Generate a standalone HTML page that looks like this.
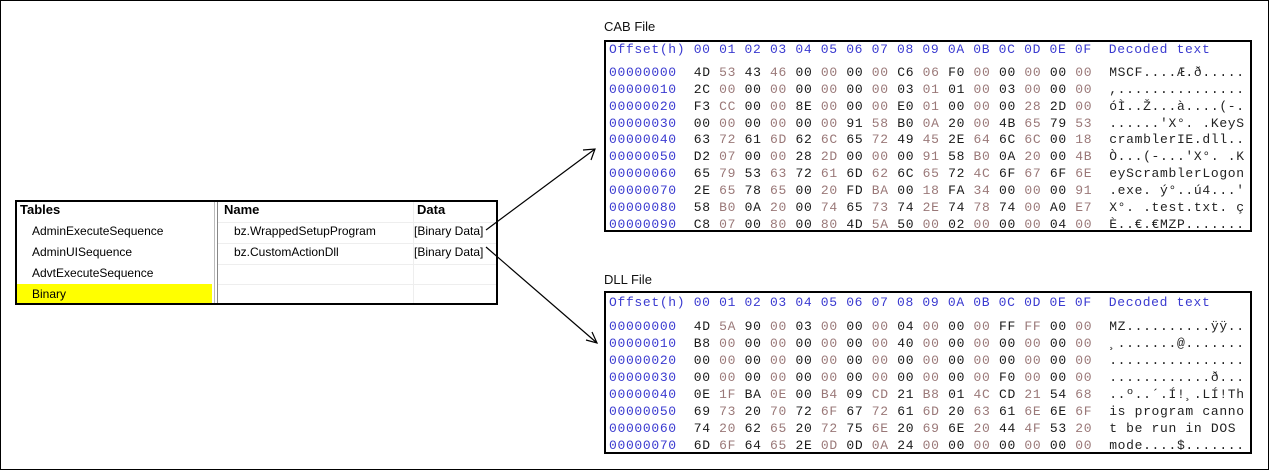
<!DOCTYPE html>
<html><head><meta charset="utf-8"><style>
html,body{margin:0;padding:0}
body{width:1269px;height:470px;position:relative;background:#fff;overflow:hidden;font-family:"Liberation Sans",sans-serif}
#frame{position:absolute;left:0;top:0;width:1267px;height:468px;border:1px solid #000}
.lbl{position:absolute;font-size:13px;color:#111}
.box{position:absolute;border:2px solid #000;overflow:hidden;background:#fff}
.r{position:absolute;left:3px;white-space:pre;font-family:"Liberation Mono",monospace;font-size:13px;letter-spacing:.67px;line-height:17px;color:#222}
.r .o{color:#3a3ad0}
.h{color:#3a3ad0}
b{font-weight:normal;color:#1a1a1a}
i{font-style:normal;color:#9a7878}
.tb{position:absolute;left:15px;top:200px;width:479px;height:101px;border:2px solid #000;overflow:hidden;font-size:12px}
.t{position:absolute;white-space:nowrap}
</style></head><body>
<div id="frame"></div>

<div class="lbl" style="left:604px;top:19px">CAB File</div>
<div class="box" style="left:604px;top:40px;width:644px;height:188px">
<div class="r h" style="top:-1px">Offset(h) 00 01 02 03 04 05 06 07 08 09 0A 0B 0C 0D 0E 0F  Decoded text</div>
<div class="r" style="top:22px"><span class="o">00000000</span>  <b>4D</b> <i>53</i> <b>43</b> <i>46</i> <b>00</b> <i>00</i> <b>00</b> <i>00</i> <b>C6</b> <i>06</i> <b>F0</b> <i>00</i> <b>00</b> <i>00</i> <b>00</b> <i>00</i>  MSCF....Æ.ð.....</div>
<div class="r" style="top:39px"><span class="o">00000010</span>  <b>2C</b> <i>00</i> <b>00</b> <i>00</i> <b>00</b> <i>00</i> <b>00</b> <i>00</i> <b>03</b> <i>01</i> <b>01</b> <i>00</i> <b>03</b> <i>00</i> <b>00</b> <i>00</i>  ,...............</div>
<div class="r" style="top:56px"><span class="o">00000020</span>  <b>F3</b> <i>CC</i> <b>00</b> <i>00</i> <b>8E</b> <i>00</i> <b>00</b> <i>00</i> <b>E0</b> <i>01</i> <b>00</b> <i>00</i> <b>00</b> <i>28</i> <b>2D</b> <i>00</i>  óÌ..Ž...à....(-.</div>
<div class="r" style="top:73px"><span class="o">00000030</span>  <b>00</b> <i>00</i> <b>00</b> <i>00</i> <b>00</b> <i>00</i> <b>91</b> <i>58</i> <b>B0</b> <i>0A</i> <b>20</b> <i>00</i> <b>4B</b> <i>65</i> <b>79</b> <i>53</i>  ......'X°. .KeyS</div>
<div class="r" style="top:89px"><span class="o">00000040</span>  <b>63</b> <i>72</i> <b>61</b> <i>6D</i> <b>62</b> <i>6C</i> <b>65</b> <i>72</i> <b>49</b> <i>45</i> <b>2E</b> <i>64</i> <b>6C</b> <i>6C</i> <b>00</b> <i>18</i>  cramblerIE.dll..</div>
<div class="r" style="top:106px"><span class="o">00000050</span>  <b>D2</b> <i>07</i> <b>00</b> <i>00</i> <b>28</b> <i>2D</i> <b>00</b> <i>00</i> <b>00</b> <i>91</i> <b>58</b> <i>B0</i> <b>0A</b> <i>20</i> <b>00</b> <i>4B</i>  Ò...(-...'X°. .K</div>
<div class="r" style="top:123px"><span class="o">00000060</span>  <b>65</b> <i>79</i> <b>53</b> <i>63</i> <b>72</b> <i>61</i> <b>6D</b> <i>62</i> <b>6C</b> <i>65</i> <b>72</b> <i>4C</i> <b>6F</b> <i>67</i> <b>6F</b> <i>6E</i>  eyScramblerLogon</div>
<div class="r" style="top:140px"><span class="o">00000070</span>  <b>2E</b> <i>65</i> <b>78</b> <i>65</i> <b>00</b> <i>20</i> <b>FD</b> <i>BA</i> <b>00</b> <i>18</i> <b>FA</b> <i>34</i> <b>00</b> <i>00</i> <b>00</b> <i>91</i>  .exe. ý°..ú4...'</div>
<div class="r" style="top:157px"><span class="o">00000080</span>  <b>58</b> <i>B0</i> <b>0A</b> <i>20</i> <b>00</b> <i>74</i> <b>65</b> <i>73</i> <b>74</b> <i>2E</i> <b>74</b> <i>78</i> <b>74</b> <i>00</i> <b>A0</b> <i>E7</i>  X°. .test.txt. ç</div>
<div class="r" style="top:174px"><span class="o">00000090</span>  <b>C8</b> <i>07</i> <b>00</b> <i>80</i> <b>00</b> <i>80</i> <b>4D</b> <i>5A</i> <b>50</b> <i>00</i> <b>02</b> <i>00</i> <b>00</b> <i>00</i> <b>04</b> <i>00</i>  È..€.€MZP.......</div>
</div>

<div class="lbl" style="left:604px;top:272px">DLL File</div>
<div class="box" style="left:604px;top:291px;width:644px;height:159px">
<div class="r h" style="top:1px">Offset(h) 00 01 02 03 04 05 06 07 08 09 0A 0B 0C 0D 0E 0F  Decoded text</div>
<div class="r" style="top:25px"><span class="o">00000000</span>  <b>4D</b> <i>5A</i> <b>90</b> <i>00</i> <b>03</b> <i>00</i> <b>00</b> <i>00</i> <b>04</b> <i>00</i> <b>00</b> <i>00</i> <b>FF</b> <i>FF</i> <b>00</b> <i>00</i>  MZ..........ÿÿ..</div>
<div class="r" style="top:42px"><span class="o">00000010</span>  <b>B8</b> <i>00</i> <b>00</b> <i>00</i> <b>00</b> <i>00</i> <b>00</b> <i>00</i> <b>40</b> <i>00</i> <b>00</b> <i>00</i> <b>00</b> <i>00</i> <b>00</b> <i>00</i>  ¸.......@.......</div>
<div class="r" style="top:59px"><span class="o">00000020</span>  <b>00</b> <i>00</i> <b>00</b> <i>00</i> <b>00</b> <i>00</i> <b>00</b> <i>00</i> <b>00</b> <i>00</i> <b>00</b> <i>00</i> <b>00</b> <i>00</i> <b>00</b> <i>00</i>  ................</div>
<div class="r" style="top:76px"><span class="o">00000030</span>  <b>00</b> <i>00</i> <b>00</b> <i>00</i> <b>00</b> <i>00</i> <b>00</b> <i>00</i> <b>00</b> <i>00</i> <b>00</b> <i>00</i> <b>F0</b> <i>00</i> <b>00</b> <i>00</i>  ............ð...</div>
<div class="r" style="top:93px"><span class="o">00000040</span>  <b>0E</b> <i>1F</i> <b>BA</b> <i>0E</i> <b>00</b> <i>B4</i> <b>09</b> <i>CD</i> <b>21</b> <i>B8</i> <b>01</b> <i>4C</i> <b>CD</b> <i>21</i> <b>54</b> <i>68</i>  ..º..´.Í!¸.LÍ!Th</div>
<div class="r" style="top:110px"><span class="o">00000050</span>  <b>69</b> <i>73</i> <b>20</b> <i>70</i> <b>72</b> <i>6F</i> <b>67</b> <i>72</i> <b>61</b> <i>6D</i> <b>20</b> <i>63</i> <b>61</b> <i>6E</i> <b>6E</b> <i>6F</i>  is program canno</div>
<div class="r" style="top:127px"><span class="o">00000060</span>  <b>74</b> <i>20</i> <b>62</b> <i>65</i> <b>20</b> <i>72</i> <b>75</b> <i>6E</i> <b>20</b> <i>69</i> <b>6E</b> <i>20</i> <b>44</b> <i>4F</i> <b>53</b> <i>20</i>  t be run in DOS </div>
<div class="r" style="top:144px"><span class="o">00000070</span>  <b>6D</b> <i>6F</i> <b>64</b> <i>65</i> <b>2E</b> <i>0D</i> <b>0D</b> <i>0A</i> <b>24</b> <i>00</i> <b>00</b> <i>00</i> <b>00</b> <i>00</i> <b>00</b> <i>00</i>  mode....$.......</div>
</div>

<div class="tb">
  <div style="position:absolute;left:0;top:82px;width:195px;height:19px;background:#ffff00"></div>
  <div style="position:absolute;left:197px;top:0;width:1px;height:101px;background:#bbb"></div>
  <div style="position:absolute;left:200px;top:0;width:1px;height:101px;background:#888"></div>
  <div style="position:absolute;left:201px;top:20px;width:278px;height:1px;background:#eee"></div>
  <div style="position:absolute;left:201px;top:41px;width:278px;height:1px;background:#eee"></div>
  <div style="position:absolute;left:201px;top:62px;width:278px;height:1px;background:#eee"></div>
  <div style="position:absolute;left:201px;top:82px;width:278px;height:1px;background:#eee"></div>
  <div style="position:absolute;left:396px;top:0;width:1px;height:101px;background:#eee"></div>
  <div class="t" style="left:3px;top:0px;font-weight:bold;font-size:13px">Tables</div>
  <div class="t" style="left:15px;top:22px">AdminExecuteSequence</div>
  <div class="t" style="left:15px;top:43px">AdminUISequence</div>
  <div class="t" style="left:15px;top:64px">AdvtExecuteSequence</div>
  <div class="t" style="left:15px;top:85px">Binary</div>
  <div class="t" style="left:207px;top:0px;font-weight:bold;font-size:13px">Name</div>
  <div class="t" style="left:400px;top:0px;font-weight:bold;font-size:13px">Data</div>
  <div class="t" style="left:217px;top:22px">bz.WrappedSetupProgram</div>
  <div class="t" style="left:217px;top:43px">bz.CustomActionDll</div>
  <div class="t" style="left:397px;top:22px">[Binary Data]</div>
  <div class="t" style="left:397px;top:43px">[Binary Data]</div>
</div>

<svg width="1269" height="470" style="position:absolute;left:0;top:0">
  <g stroke="#000" stroke-width="1.2" fill="none">
    <line x1="486" y1="230" x2="595" y2="149"/>
    <polyline points="583,150 595,149 591,160"/>
    <line x1="486" y1="247" x2="597" y2="343"/>
    <polyline points="592,332 597,343 586,340"/>
  </g>
</svg>
</body></html>
